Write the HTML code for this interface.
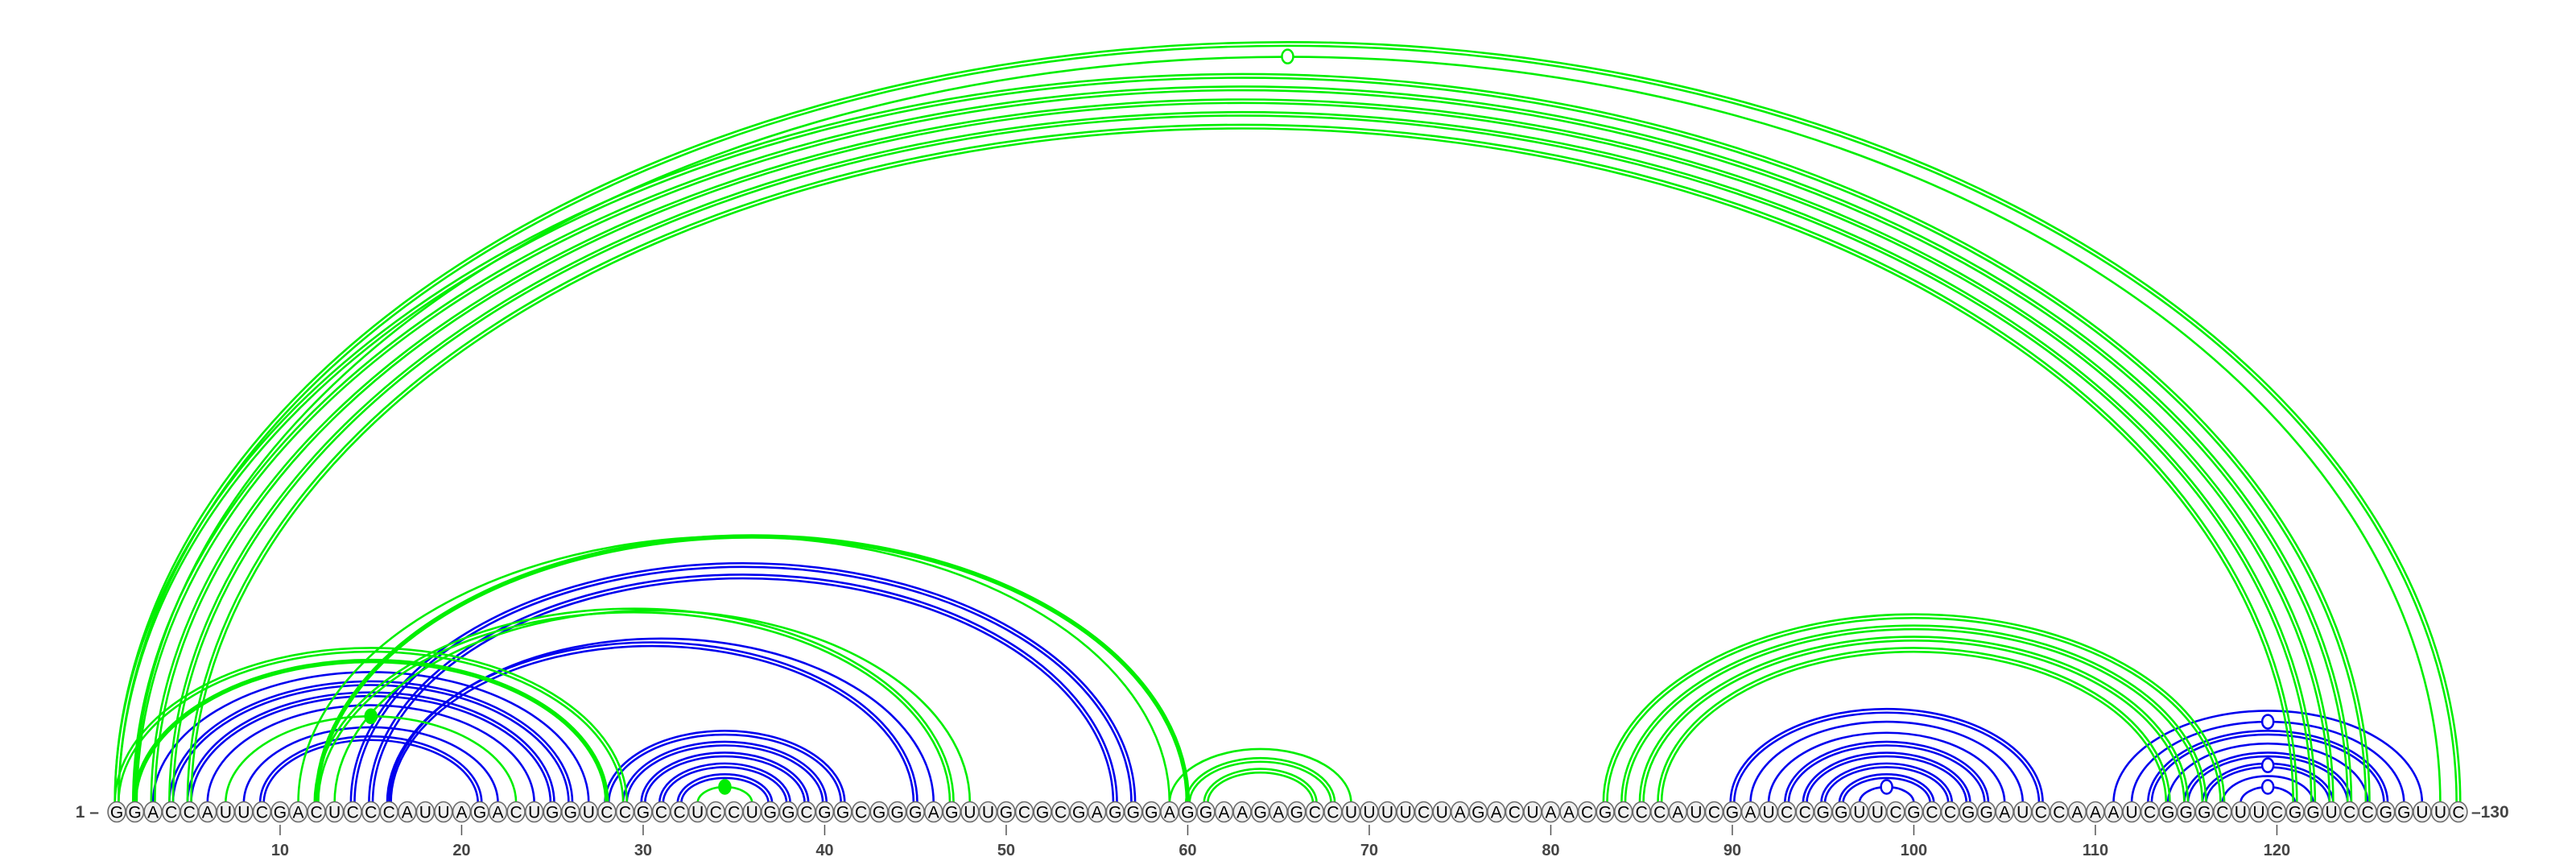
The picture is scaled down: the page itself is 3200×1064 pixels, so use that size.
<!DOCTYPE html>
<html><head><meta charset="utf-8"><style>
html,body{margin:0;padding:0;background:#fff;}
svg{display:block;font-family:"Liberation Sans",sans-serif;}
</style></head><body>
<svg id="chart" width="3200" height="1064" viewBox="0 0 3200 1064" xmlns="http://www.w3.org/2000/svg">
<g id="arcs"></g>
<g id="nts"></g>
<g id="axis"></g>
</svg>
<script>
const sequence = "GGACCAUUCGACUCCCAUUAGACUGGUCCGCCUCCUGGCGGCGGGAGUUGCGCGAGGGAGGAAGAGCCUUUUCUAGACUAACGCCCAUCGAUCCGGUUCGCCGGAUCCAAAUCGGGCUUCGGUCCGGUUC";
const tickPositions = [10,20,30,40,50,60,70,80,90,100,110,120];
// blue structure pairs: [i, j, style, marker]
const bluePairs = [
 [3,27,"s",""],[4,26,"d",""],[5,25,"d",""],[6,24,"s",""],[8,22,"s",""],[9,21,"d",""],
 [14,57,"d",""],[15,56,"d",""],[16,45,"d",""],[16,46,"s",""],
 [28,41,"d",""],[29,40,"d",""],[30,39,"d",""],[31,38,"d",""],[32,37,"d",""],
 [90,107,"d",""],[91,106,"s",""],[92,105,"s",""],[93,104,"d",""],[94,103,"d",""],[95,102,"d",""],[96,101,"d",""],[97,100,"s","open"],
 [111,128,"s",""],[112,127,"s","open"],[113,126,"d",""],[114,125,"s",""],[115,124,"d",""],[116,123,"d","open"],[117,122,"s",""],[118,121,"s","open"]
];
// green structure pairs
const greenPairs = [
 [1,130,"d",""],[2,129,"s","open"],[1,125,"d",""],[2,124,"d",""],[3,123,"d",""],[4,122,"d",""],[5,121,"d",""],
 [1,29,"d",""],[2,28,"t",""],[7,23,"s","filled"],
 [12,60,"t",""],[11,59,"s",""],[12,47,"d",""],[13,48,"s",""],
 [33,36,"s","filled"],
 [59,69,"s",""],[60,68,"d",""],[61,67,"d",""],
 [83,117,"d",""],[84,116,"d",""],[85,115,"d",""],[86,114,"d",""]
];
const NS="http://www.w3.org/2000/svg";
const X0=145, DX=22.55, YC=1008, Y0=997;
function xs(i){return X0+(i-1)*DX;}
function ryOf(hw){return 0.59*hw+0.00004*hw*hw;}
const arcsG=document.getElementById('arcs');
function arcPath(x1,x2,off){
  const hw=(x2-x1)/2, ry=ryOf(hw)+off;
  return `M${x1-off},${Y0} A${hw+off},${ry} 0 0 1 ${x2+off},${Y0}`;
}
function drawPairs(pairs,color,name){
  pairs.forEach(p=>{
    const x1=xs(p[0]), x2=xs(p[1]);
    const offs = p[2]==="d"?[-2.3,2.3]:[0];
    const w = p[2]==="t"?5.5:2.6;
    offs.forEach(o=>{
      const path=document.createElementNS(NS,'path');
      path.setAttribute('d',arcPath(x1,x2,o));
      path.setAttribute('fill','none');
      path.setAttribute('stroke',color);
      path.setAttribute('stroke-width',w);
      
      
      arcsG.appendChild(path);
    });
    if(p[3]){
      const hw=(x2-x1)/2;
      const m=document.createElementNS(NS,'ellipse');
      m.setAttribute('cx',(x1+x2)/2);
      m.setAttribute('cy',Y0-ryOf(hw));
      m.setAttribute('rx',7);m.setAttribute('ry',8.5);
      m.setAttribute('fill',p[3]==="filled"?color:'#fff');
      m.setAttribute('stroke',color);m.setAttribute('stroke-width',2.5);
      
      
      arcsG.appendChild(m);
    }
  });
}
drawPairs(bluePairs,'#0000ee','blue-structure');
drawPairs(greenPairs,'#00ee00','green-structure');

const ntG=document.getElementById('nts');
for(let i=1;i<=sequence.length;i++){
  const g=document.createElementNS(NS,'g');
  
  
  const e=document.createElementNS(NS,'ellipse');
  e.setAttribute('cx',xs(i));e.setAttribute('cy',YC);
  e.setAttribute('rx',10.9);e.setAttribute('ry',12.5);
  e.setAttribute('fill','#f0f0f0');e.setAttribute('stroke','#6a6a6a');e.setAttribute('stroke-width',1.6);
  g.appendChild(e);
  const t=document.createElementNS(NS,'text');
  t.setAttribute('x',xs(i));t.setAttribute('y',YC+7.5);
  t.setAttribute('text-anchor','middle');t.setAttribute('font-size','21');t.setAttribute('fill','#000');
  t.textContent=sequence[i-1];
  g.appendChild(t);
  ntG.appendChild(g);
}
const ax=document.getElementById('axis');
tickPositions.forEach(p=>{
  const l=document.createElementNS(NS,'line');
  l.setAttribute('x1',xs(p));l.setAttribute('x2',xs(p));
  l.setAttribute('y1',1024);l.setAttribute('y2',1037);
  l.setAttribute('stroke','#555');l.setAttribute('stroke-width',1.5);
  
  
  ax.appendChild(l);
  const t=document.createElementNS(NS,'text');
  t.setAttribute('x',xs(p));t.setAttribute('y',1062);
  t.setAttribute('text-anchor','middle');t.setAttribute('font-size','20');
  t.setAttribute('font-weight','bold');t.setAttribute('fill','#444');
  
  
  t.textContent=p;
  ax.appendChild(t);
});
const st=document.createElementNS(NS,'text');
st.setAttribute('x',xs(1)-22);st.setAttribute('y',YC+7);
st.setAttribute('text-anchor','end');st.setAttribute('font-size','21');
st.setAttribute('font-weight','bold');st.setAttribute('fill','#444');


st.textContent='1 –';
ax.appendChild(st);
const en=document.createElementNS(NS,'text');
en.setAttribute('x',xs(sequence.length)+16);en.setAttribute('y',YC+7);
en.setAttribute('text-anchor','start');en.setAttribute('font-size','21');
en.setAttribute('font-weight','bold');en.setAttribute('fill','#444');


en.textContent='–130';
ax.appendChild(en);
</script>
</body></html>
